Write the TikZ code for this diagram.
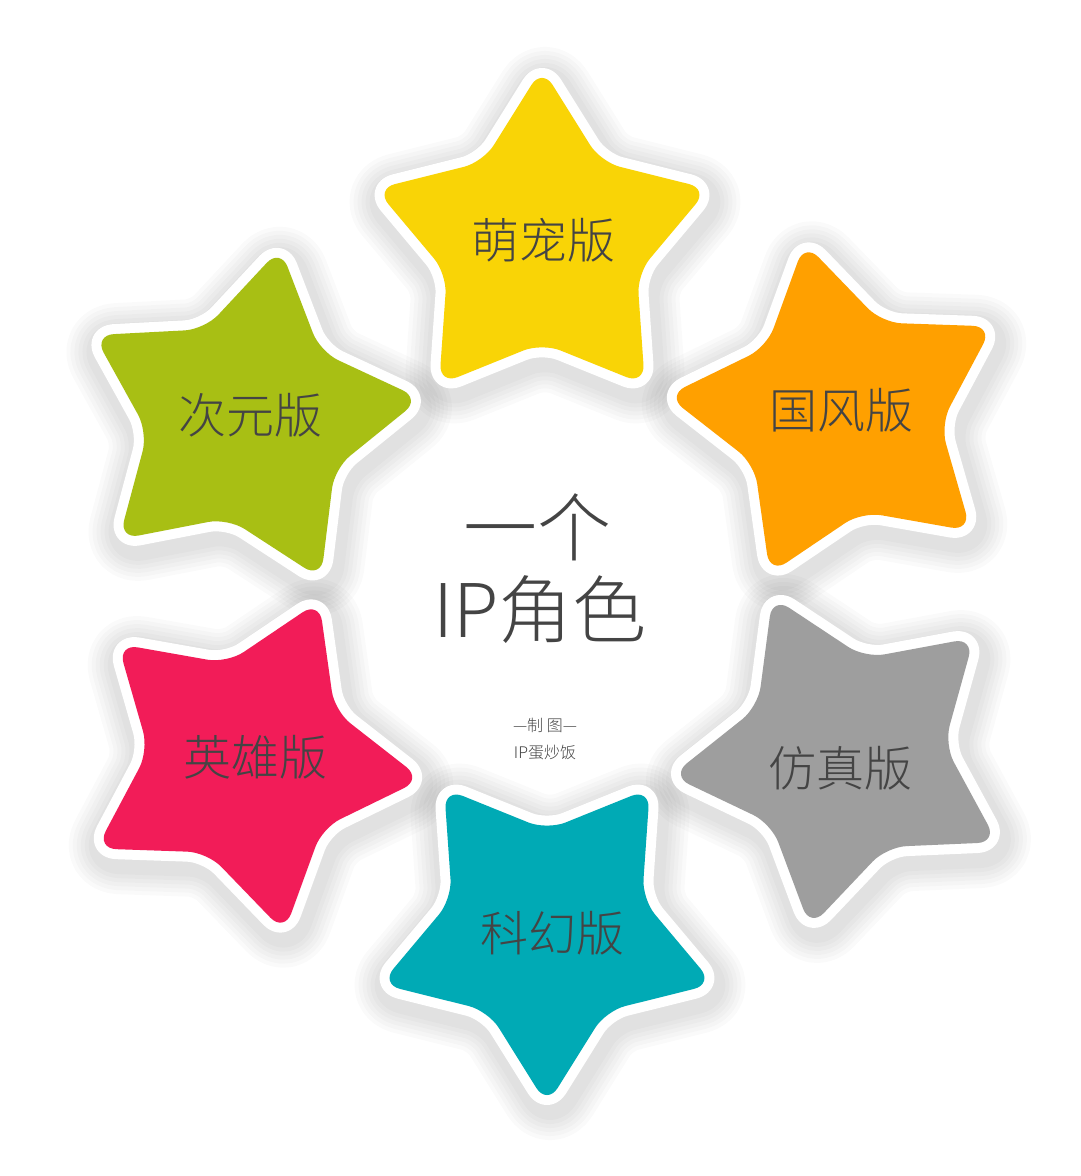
\documentclass[tikz,border=0pt]{standalone}
\usepackage{fontspec}
\newfontfamily\cjk{Noto Sans CJK SC Light}
\definecolor{cyellow}{HTML}{F9D406}
\definecolor{corange}{HTML}{FFA000}
\definecolor{cgrey}{HTML}{9E9E9E}
\definecolor{cteal}{HTML}{00AAB5}
\definecolor{cmagenta}{HTML}{F21C58}
\definecolor{cgreen}{HTML}{A8BF14}
\definecolor{textgray}{HTML}{444444}
\newcommand\starpath[1]{\path[#1] (90:175) -- (126:100) -- (162:175) -- (198:100) -- (234:175) -- (270:100) -- (306:175) -- (342:100) -- (18:175) -- (54:100) -- cycle;}
\newcommand\starshadow[3]{%
  \begin{scope}[shift={(#1+3,#2-7)},rotate=#3]
    \foreach \w in {18,22,...,38} {\starpath{draw=black, draw opacity=0.018, line width=\w pt, rounded corners=10pt, line join=round}}
  \end{scope}}
\newcommand\starwhite[3]{%
  \begin{scope}[shift={(#1,#2)},rotate=#3]
    \starpath{draw=white, fill=white, line width=10pt, rounded corners=10pt, line join=round}
  \end{scope}}
\newcommand\starfill[4]{%
  \begin{scope}[shift={(#1,#2)},rotate=#3]
    \starpath{fill=#4, rounded corners=10pt}
  \end{scope}}
\tikzset{
  lbl/.style={text=textgray, inner sep=0pt, font=\cjk\fontsize{24}{24}\selectfont},
  big/.style={text=textgray, inner sep=0pt, font=\cjk\fontsize{37}{37}\selectfont},
  small/.style={text=textgray, inner sep=0pt, font=\cjk\fontsize{8}{8}\selectfont}
}
\begin{document}
\begin{tikzpicture}[x=0.5pt,y=0.5pt]
\useasboundingbox[fill=white] (0,0) rectangle (1080,1176);
% shadows
\starshadow{542}{933}{0}
\starshadow{841}{762}{12}
\starshadow{845}{420}{24.5}
\starshadow{547}{246}{36}
\starshadow{248}{415}{-24}
\starshadow{247}{756}{-11}
% white borders
\starwhite{542}{933}{0}
\starwhite{841}{762}{12}
\starwhite{845}{420}{24.5}
\starwhite{547}{246}{36}
\starwhite{248}{415}{-24}
\starwhite{247}{756}{-11}
% fills
\starfill{542}{933}{0}{cyellow}
\starfill{841}{762}{12}{corange}
\starfill{845}{420}{24.5}{cgrey}
\starfill{547}{246}{36}{cteal}
\starfill{248}{415}{-24}{cmagenta}
\starfill{247}{756}{-11}{cgreen}
% labels
\node[lbl] (mengchong) at (543,936) {萌宠版};
\node[lbl] (guofeng) at (841,766) {国风版};
\node[lbl] (fangzhen) at (840,408) {仿真版};
\node[lbl] (kehuan) at (552,243) {科幻版};
\node[lbl] (yingxiong) at (255,419) {英雄版};
\node[lbl] (ciyuan) at (250,761) {次元版};
% centre
\node[big] (yige) at (537,649) {一个};
\node[big] (ipjuese) at (540,566) {IP角色};
\node[small] (zhitu) at (545,451) {—制 图—};
\node[small] (author) at (545,423) {IP蛋炒饭};
\end{tikzpicture}
\end{document}
